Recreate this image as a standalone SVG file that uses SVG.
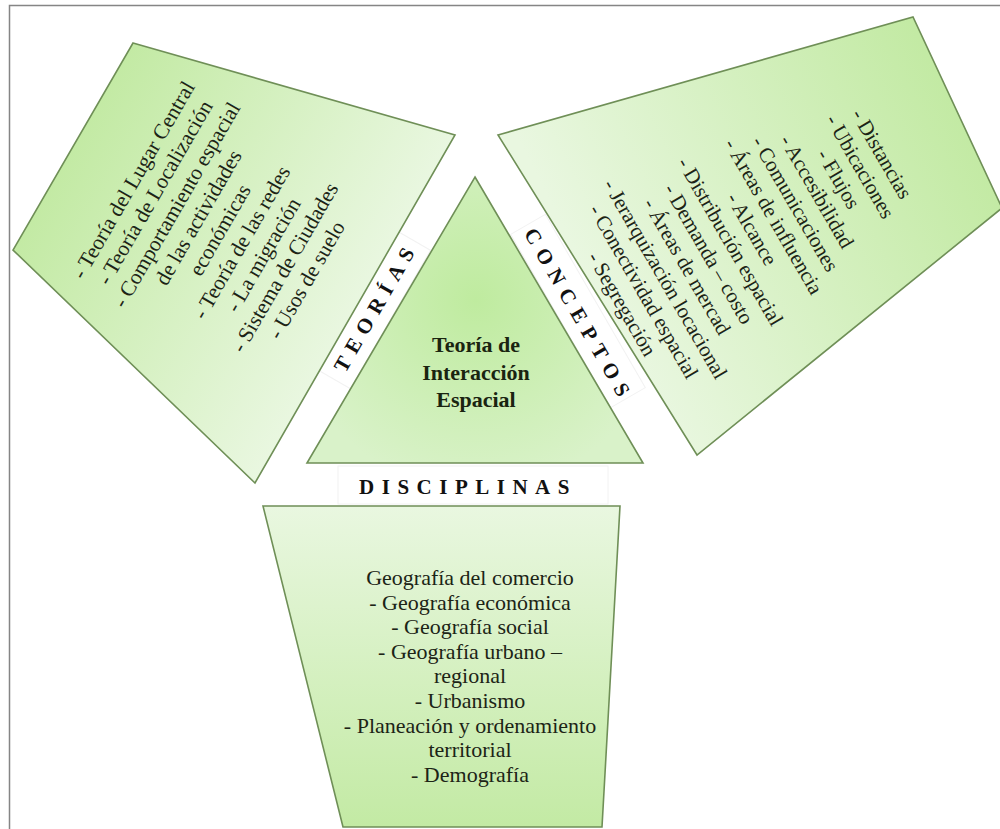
<svg xmlns="http://www.w3.org/2000/svg" width="1000" height="829" viewBox="0 0 1000 829">
  <defs>
    <linearGradient id="gLeft" gradientUnits="userSpaceOnUse" x1="73" y1="146" x2="355" y2="309">
      <stop offset="0" stop-color="#c3eaa4"/>
      <stop offset="1" stop-color="#e9f7e0"/>
    </linearGradient>
    <linearGradient id="gRight" gradientUnits="userSpaceOnUse" x1="956" y1="113" x2="597" y2="295">
      <stop offset="0" stop-color="#c3eaa4"/>
      <stop offset="1" stop-color="#e9f7e0"/>
    </linearGradient>
    <linearGradient id="gBottom" gradientUnits="userSpaceOnUse" x1="460" y1="827" x2="460" y2="506">
      <stop offset="0" stop-color="#c3eaa4"/>
      <stop offset="1" stop-color="#e9f7e0"/>
    </linearGradient>
    <radialGradient id="gTri" gradientUnits="userSpaceOnUse" cx="476" cy="300" r="190">
      <stop offset="0" stop-color="#bfeb9f"/>
      <stop offset="1" stop-color="#d9f2c9"/>
    </radialGradient>
  </defs>
  <style>
    .shape { stroke: #6f8f57; stroke-width: 1.6; stroke-linejoin: miter; }
    .band { fill: #ffffff; stroke: #f2f2f2; stroke-width: 1; }
    .body { font-family: "Liberation Serif", "Times New Roman", serif; font-size: 21px; fill: #1c2416; text-anchor: middle; }
    .wide { font-size: 21.5px; }
    .label { font-family: "Liberation Serif", "Times New Roman", serif; font-size: 21px; font-weight: bold; letter-spacing: 7.5px; fill: #111111; text-anchor: middle; }
    .title { font-family: "Liberation Serif", "Times New Roman", serif; font-size: 22px; font-weight: bold; fill: #1a2410; text-anchor: middle; }
  </style>

  <rect x="0" y="0" width="1000" height="829" fill="#ffffff"/>
  <rect x="9.5" y="5.5" width="1000" height="830" fill="none" stroke="#858585" stroke-width="1.5"/>

  <!-- white text strips between the centre and the three blocks -->
  <g id="bands">
    <rect class="band" x="-80" y="-19" width="160" height="38" transform="translate(374,310) rotate(-60)"/>
    <rect class="band" x="-100" y="-20" width="200" height="40" transform="translate(578,311) rotate(60)"/>
    <rect class="band" x="338" y="466" width="270" height="38"/>
  </g>

  <g id="teorias">
    <polygon class="shape" fill="url(#gLeft)" points="133,43 455,135 255,483 13,250"/>
    <g class="body wide" transform="translate(220,230) rotate(-60)">
      <text x="0" y="-93">- Teoría del Lugar Central</text>
      <text x="0" y="-68">- Teoría de Localización</text>
      <text x="0" y="-43">- Comportamiento espacial</text>
      <text x="0" y="-18">de las actividades</text>
      <text x="0" y="7">económicas</text>
      <text x="0" y="32">- Teoría de las redes</text>
      <text x="0" y="57">- La migración</text>
      <text x="0" y="82">- Sistema de Ciudades</text>
      <text x="0" y="107">- Usos de suelo</text>
    </g>
  </g>

  <g id="conceptos">
    <polygon class="shape" fill="url(#gRight)" points="498,135 913,17 1002,208 697,455"/>
    <g class="body" transform="translate(752,229) rotate(60)">
      <text x="0" y="-143">- Distancias</text>
      <text x="0" y="-118">- Ubicaciones</text>
      <text x="0" y="-93">- Flujos</text>
      <text x="0" y="-68">- Accesibilidad</text>
      <text x="0" y="-43">- Comunicaciones</text>
      <text x="0" y="-18">- Áreas de influencia</text>
      <text x="0" y="7">- Alcance</text>
      <text x="0" y="32">- Distribución espacial</text>
      <text x="0" y="57">- Demanda – costo</text>
      <text x="0" y="82">- Áreas de mercad</text>
      <text x="0" y="107">- Jerarquización locacional</text>
      <text x="0" y="132">- Conectividad espacial</text>
      <text x="0" y="157">- Segregación</text>
    </g>
  </g>

  <g id="disciplinas">
    <polygon class="shape" fill="url(#gBottom)" points="263,506 620,506 602,827 343,827"/>
    <g class="body" style="font-size:22px">
      <text x="470" y="585">Geografía del comercio</text>
      <text x="470" y="610">- Geografía económica</text>
      <text x="470" y="634">- Geografía social</text>
      <text x="470" y="659">- Geografía urbano –</text>
      <text x="470" y="683">regional</text>
      <text x="470" y="708">- Urbanismo</text>
      <text x="470" y="733">- Planeación y ordenamiento</text>
      <text x="470" y="757">territorial</text>
      <text x="470" y="782">- Demografía</text>
    </g>
  </g>

  <g id="centro">
    <polygon class="shape" fill="url(#gTri)" points="475,177 643,463 307,463"/>
    <text class="title" x="476" y="352">Teoría de</text>
    <text class="title" x="476" y="380">Interacción</text>
    <text class="title" x="476" y="407">Espacial</text>
  </g>

  <g id="labels">
    <text class="label" x="4" y="7" transform="translate(374,310) rotate(-60)">TEORÍAS</text>
    <text class="label" x="4" y="7" transform="translate(577,312) rotate(60)">CONCEPTOS</text>
    <text class="label" x="468" y="494">DISCIPLINAS</text>
  </g>
</svg>
